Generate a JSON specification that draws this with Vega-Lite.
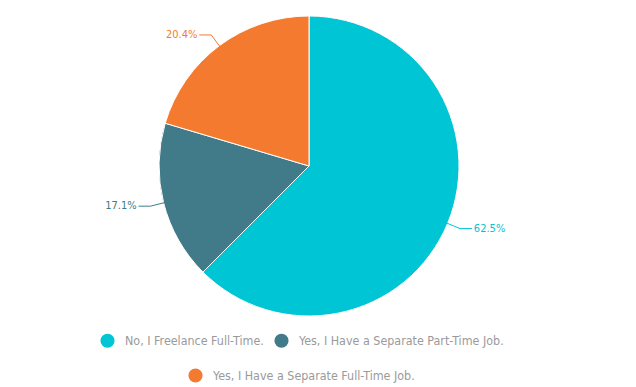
{
  "$schema": "https://vega.github.io/schema/vega-lite/v6.json",
  "width": 618,
  "height": 332,
  "padding": 0,
  "data": {"values": [
    {"answer": "No, I Freelance Full-Time.", "share": 62.5},
    {"answer": "Yes, I Have a Separate Part-Time Job.", "share": 17.1},
    {"answer": "Yes, I Have a Separate Full-Time Job.", "share": 20.4}
  ]},
  "transform": [
    {"window": [{"op": "row_number", "as": "idx"}]},
    {"joinaggregate": [{"op": "sum", "field": "share", "as": "total"}]},
    {"window": [{"op": "sum", "field": "share", "as": "cum"}], "sort": [{"field": "idx"}], "frame": [null, 0]},
    {"calculate": "2*PI*(datum.cum - datum.share/2)/datum.total", "as": "mid"},
    {"calculate": "sin(datum.mid)", "as": "sx"},
    {"calculate": "cos(datum.mid)", "as": "cy"},
    {"calculate": "datum.sx >= 0 ? 1 : -1", "as": "side"},
    {"calculate": "0.99*datum.sx", "as": "ex"},
    {"calculate": "0.99*datum.cy", "as": "ey"},
    {"calculate": "1.09*datum.sx", "as": "bx"},
    {"calculate": "1.09*datum.cy", "as": "by"},
    {"calculate": "datum.bx + datum.side*0.08", "as": "tx"},
    {"calculate": "datum.tx + datum.side*0.012", "as": "lx"},
    {"calculate": "format(datum.share, '.1f') + '%'", "as": "label"}
  ],
  "layer": [
    {
      "mark": {"type": "arc", "outerRadius": 150, "color": "#F47A30", "strokeWidth": 0},
      "encoding": {
        "theta": {"field": "share", "type": "quantitative", "stack": true},
        "order": {"field": "idx", "type": "quantitative"},
        "stroke": {
          "field": "answer", "type": "nominal",
          "scale": {"domain": ["Yes, I Have a Separate Full-Time Job."], "range": ["#F47A30"]},
          "legend": {"title": null, "orient": "none", "legendX": 188, "legendY": 368, "direction": "horizontal", "symbolType": "circle", "symbolFillColor": "#F47A30", "symbolStrokeWidth": 0, "symbolOpacity": 1}
        }
      }
    },
    {
      "mark": {"type": "arc", "outerRadius": 150, "stroke": "#ffffff", "strokeWidth": 1},
      "encoding": {
        "theta": {"field": "share", "type": "quantitative", "stack": true},
        "order": {"field": "idx", "type": "quantitative"},
        "color": {
          "field": "answer", "type": "nominal",
          "scale": {"domain": ["No, I Freelance Full-Time.", "Yes, I Have a Separate Part-Time Job.", "Yes, I Have a Separate Full-Time Job."], "range": ["#00C5D5", "#417A89", "#F47A30"]},
          "legend": {"title": null, "orient": "none", "legendX": 100, "legendY": 333, "direction": "horizontal", "columns": 2, "values": ["No, I Freelance Full-Time.", "Yes, I Have a Separate Part-Time Job."], "symbolType": "circle", "symbolStrokeWidth": 0}
        }
      }
    },
    {
      "mark": {"type": "rule", "strokeWidth": 1},
      "encoding": {
        "x": {"field": "ex", "type": "quantitative", "scale": {"domain": [-2.06, 2.06], "nice": false, "zero": false}, "axis": null},
        "y": {"field": "ey", "type": "quantitative", "scale": {"domain": [-1.10667, 1.10667], "nice": false, "zero": false}, "axis": null},
        "x2": {"field": "bx"},
        "y2": {"field": "by"},
        "color": {"field": "answer", "type": "nominal"}
      }
    },
    {
      "mark": {"type": "rule", "strokeWidth": 1},
      "encoding": {
        "x": {"field": "bx", "type": "quantitative", "scale": {"domain": [-2.06, 2.06], "nice": false, "zero": false}, "axis": null},
        "y": {"field": "by", "type": "quantitative", "scale": {"domain": [-1.10667, 1.10667], "nice": false, "zero": false}, "axis": null},
        "x2": {"field": "tx"},
        "y2": {"field": "by"},
        "color": {"field": "answer", "type": "nominal"}
      }
    },
    {
      "transform": [{"filter": "datum.side > 0"}],
      "mark": {"type": "text", "align": "left", "baseline": "middle", "fontSize": 11, "font": "Liberation Sans Narrow, DejaVu Sans Condensed, sans-serif"},
      "encoding": {
        "x": {"field": "lx", "type": "quantitative", "scale": {"domain": [-2.06, 2.06], "nice": false, "zero": false}, "axis": null},
        "y": {"field": "by", "type": "quantitative", "scale": {"domain": [-1.10667, 1.10667], "nice": false, "zero": false}, "axis": null},
        "text": {"field": "label"},
        "color": {"field": "answer", "type": "nominal"}
      }
    },
    {
      "transform": [{"filter": "datum.side < 0"}],
      "mark": {"type": "text", "align": "right", "baseline": "middle", "fontSize": 11, "font": "Liberation Sans Narrow, DejaVu Sans Condensed, sans-serif"},
      "encoding": {
        "x": {"field": "lx", "type": "quantitative", "scale": {"domain": [-2.06, 2.06], "nice": false, "zero": false}, "axis": null},
        "y": {"field": "by", "type": "quantitative", "scale": {"domain": [-1.10667, 1.10667], "nice": false, "zero": false}, "axis": null},
        "text": {"field": "label"},
        "color": {"field": "answer", "type": "nominal"}
      }
    }
  ],
  "config": {
    "view": {"stroke": null},
    "legend": {
      "labelFont": "Liberation Sans Narrow, DejaVu Sans Condensed, sans-serif",
      "labelFontSize": 12.4,
      "labelColor": "#9a9a9a",
      "symbolSize": 200,
      "padding": 0,
      "labelOffset": 10,
      "columnPadding": 10,
      "labelLimit": 400
    }
  }
}
